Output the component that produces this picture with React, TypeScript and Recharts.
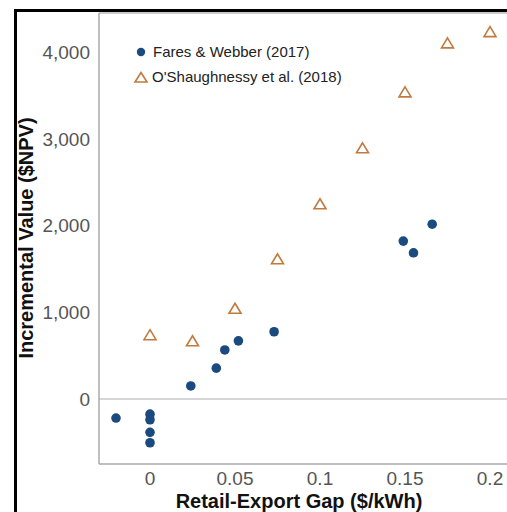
import { ScatterChart, Scatter, XAxis, YAxis, ReferenceLine } from 'recharts'

// Fares & Webber (2017)
const faresGap = [-0.02, 0, 0, 0, 0, 0.024, 0.039, 0.044, 0.052, 0.073, 0.149, 0.155, 0.166]
const faresValue = [-220, -175, -240, -385, -505, 150, 355, 565, 670, 775, 1820, 1685, 2015]

// O'Shaughnessy et al. (2018)
const oshGap = [0, 0.025, 0.05, 0.075, 0.1, 0.125, 0.15, 0.175, 0.2]
const oshValue = [735, 665, 1040, 1610, 2245, 2890, 3535, 4100, 4230]

const xTicks = [0, 0.05, 0.1, 0.15, 0.2]
const yTicks = [0, 1000, 2000, 3000, 4000]

const faresData = faresGap.map((x, i) => ({ x, y: faresValue[i] }))
const oshData = oshGap.map((x, i) => ({ x, y: oshValue[i] }))

const BLUE = '#1b4a7e'
const ORANGE = '#c07a3e'
const FONT = '"Liberation Sans", Arial, sans-serif'
const Y_MIN = -750
const Y_MAX = 4450

const Dot = (props: any) => <circle cx={props.cx} cy={props.cy} r={4.8} fill={BLUE} />

const Tri = (props: any) => {
    const { cx, cy } = props
    return (
        <path
            d={`M${cx},${cy - 5.5} L${cx + 6},${cy + 4.5} L${cx - 6},${cy + 4.5} Z`}
            fill="none"
            stroke={ORANGE}
            strokeWidth={1.6}
        />
    )
}

// legend drawn as an overlay so it doesn't shift the plot area
const LegendBox = () => (
    <svg width={240} height={50} style={{ position: 'absolute', left: 130, top: 40, overflow: 'visible' }}>
        <circle cx={11} cy={12} r={4.2} fill={BLUE} />
        <text x={23} y={17} fontSize={15} fill="#222" fontFamily={FONT}>Fares &amp; Webber (2017)</text>
        <path d="M11,32.5 L17,42 L5,42 Z" fill="none" stroke={ORANGE} strokeWidth={1.6} />
        <text x={22} y={42} fontSize={15} fill="#222" fontFamily={FONT}>O'Shaughnessy et al. (2018)</text>
    </svg>
)

export default function App() {
    return (
        <div style={{ position: 'absolute', left: 0, top: 0, width: 507, height: 512, overflow: 'hidden', background: '#fff' }}>
            <div style={{ position: 'absolute', left: 14, top: 9, width: 600, height: 600, borderLeft: '3px solid #000', borderTop: '3px solid #000' }} />
            <ScatterChart width={507} height={512} margin={{ top: 13, right: 0, bottom: 0, left: 0 }} style={{ position: 'absolute', left: 0, top: 0, fontFamily: FONT }}>
                <XAxis
                    type="number"
                    dataKey="x"
                    domain={[-0.03, 0.21]}
                    ticks={xTicks}
                    allowDataOverflow
                    height={48}
                    tickLine={false}
                    axisLine={{ stroke: '#aaa', strokeWidth: 1.5 }}
                    tick={{ fill: '#555', fontSize: 19 }}
                    tickFormatter={(v: number) => String(v)}
                    label={{
                        content: () => (
                            <text x={299} y={508} textAnchor="middle" fontSize={20} fontWeight="bold" fill="#111" fontFamily={FONT}>
                                Retail-Export Gap ($/kWh)
                            </text>
                        ),
                    }}
                />
                <YAxis
                    type="number"
                    dataKey="y"
                    domain={[Y_MIN, Y_MAX]}
                    ticks={yTicks}
                    allowDataOverflow
                    width={99}
                    tickLine={false}
                    tickMargin={3}
                    axisLine={{ stroke: '#aaa', strokeWidth: 1.5 }}
                    tick={{ fill: '#555', fontSize: 19 }}
                    tickFormatter={(v: number) => v.toLocaleString('en-US')}
                    label={{
                        content: () => (
                            <text x={33} y={238} transform="rotate(-90 33 238)" textAnchor="middle" fontSize={20} fontWeight="bold" fill="#111" fontFamily={FONT}>
                                Incremental Value ($NPV)
                            </text>
                        ),
                    }}
                />
                <ReferenceLine y={0} stroke="#c8c8c8" strokeWidth={1.5} />
                <ReferenceLine y={Y_MAX} stroke="#bbb" strokeWidth={1.5} />
                <Scatter name="O'Shaughnessy et al. (2018)" data={oshData} shape={Tri} isAnimationActive={false} />
                <Scatter name="Fares & Webber (2017)" data={faresData} shape={Dot} isAnimationActive={false} />
            </ScatterChart>
            <LegendBox />
        </div>
    )
}
